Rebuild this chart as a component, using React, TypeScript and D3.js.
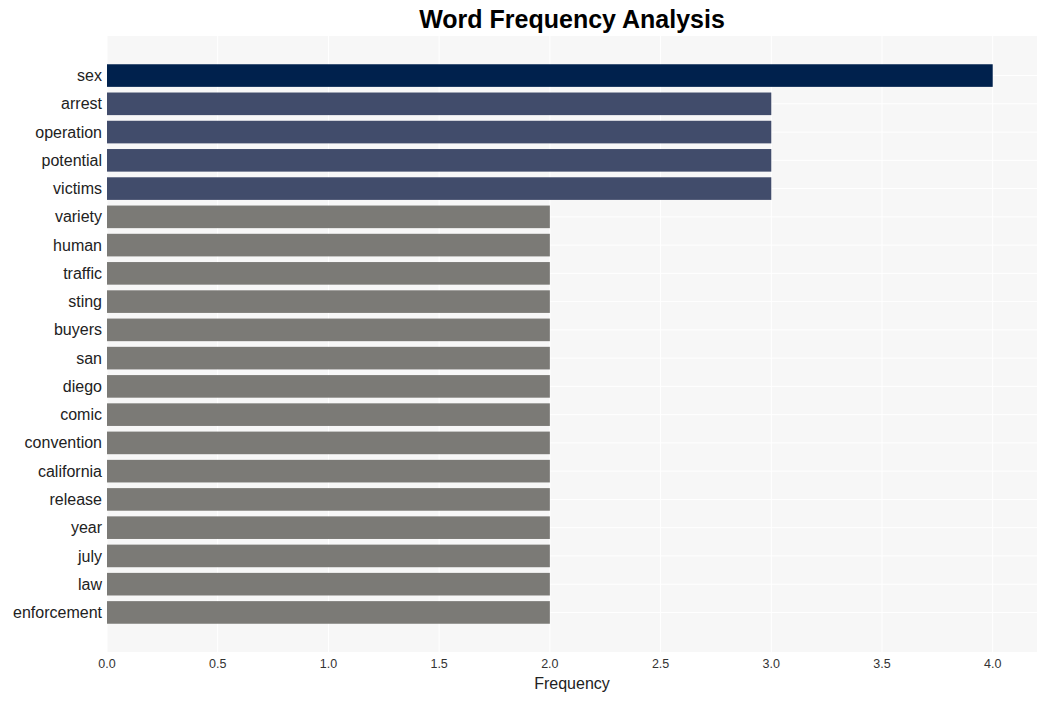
import { useMemo } from "react";
import * as d3 from "d3";

const WIDTH = 1047;
const HEIGHT = 701;
const MARGIN = { top: 36, right: 10, bottom: 49, left: 107 };

const words = [
  "sex", "arrest", "operation", "potential", "victims", "variety", "human",
  "traffic", "sting", "buyers", "san", "diego", "comic", "convention",
  "california", "release", "year", "july", "law", "enforcement",
];
const counts = [4, 3, 3, 3, 3, 2, 2, 2, 2, 2, 2, 2, 2, 2, 2, 2, 2, 2, 2, 2];
const xTicks = [0, 0.5, 1, 1.5, 2, 2.5, 3, 3.5, 4];

const colorFor = (v: number) =>
  v >= 4 ? "#00214d" : v >= 3 ? "#414c6b" : "#7b7a76";

export default function App() {
  const boundsWidth = WIDTH - MARGIN.left - MARGIN.right;
  const boundsHeight = HEIGHT - MARGIN.top - MARGIN.bottom;

  const xScale = useMemo(
    () => d3.scaleLinear().domain([0, 4.2]).range([0, boundsWidth]),
    [boundsWidth]
  );
  const yScale = useMemo(
    () =>
      d3
        .scaleBand()
        .domain(words)
        .range([0, boundsHeight])
        .paddingInner(0.2)
        .paddingOuter(1),
    [boundsHeight]
  );

  const font = "'Liberation Sans', Arial, sans-serif";

  return (
    <svg width={WIDTH} height={HEIGHT} style={{ position: "absolute", left: 0, top: 0 }}>
      <rect width={WIDTH} height={HEIGHT} fill="#ffffff" />
      <text
        x={MARGIN.left + boundsWidth / 2}
        y={28}
        textAnchor="middle"
        fontFamily={font}
        fontWeight="bold"
        fontSize={25}
        fill="#000"
      >
        Word Frequency Analysis
      </text>
      <g transform={`translate(${MARGIN.left},${MARGIN.top})`}>
        <rect width={boundsWidth} height={boundsHeight} fill="#f7f7f7" />
        {xTicks.map((t) => (
          <line
            key={"gx" + t}
            x1={xScale(t)}
            x2={xScale(t)}
            y1={0}
            y2={boundsHeight}
            stroke="#ffffff"
            strokeWidth={1}
          />
        ))}
        {words.map((w) => (
          <line
            key={"gy" + w}
            x1={0}
            x2={boundsWidth}
            y1={yScale(w)! + yScale.bandwidth() / 2}
            y2={yScale(w)! + yScale.bandwidth() / 2}
            stroke="#ffffff"
            strokeWidth={1}
          />
        ))}
        {words.map((w, i) => (
          <rect
            key={w}
            x={0}
            y={yScale(w)}
            width={xScale(counts[i])}
            height={yScale.bandwidth()}
            fill={colorFor(counts[i])}
          />
        ))}
        {words.map((w) => (
          <text
            key={"l" + w}
            x={-5}
            y={yScale(w)! + yScale.bandwidth() / 2}
            dy="0.35em"
            textAnchor="end"
            fontFamily={font}
            fontSize={16}
            fill="#222"
          >
            {w}
          </text>
        ))}
        {xTicks.map((t) => (
          <text
            key={"tx" + t}
            x={xScale(t)}
            y={boundsHeight + 16}
            textAnchor="middle"
            fontFamily={font}
            fontSize={12.5}
            fill="#333"
          >
            {t.toFixed(1)}
          </text>
        ))}
        <text
          x={boundsWidth / 2}
          y={boundsHeight + 37}
          textAnchor="middle"
          fontFamily={font}
          fontSize={16}
          fill="#222"
        >
          Frequency
        </text>
      </g>
    </svg>
  );
}
